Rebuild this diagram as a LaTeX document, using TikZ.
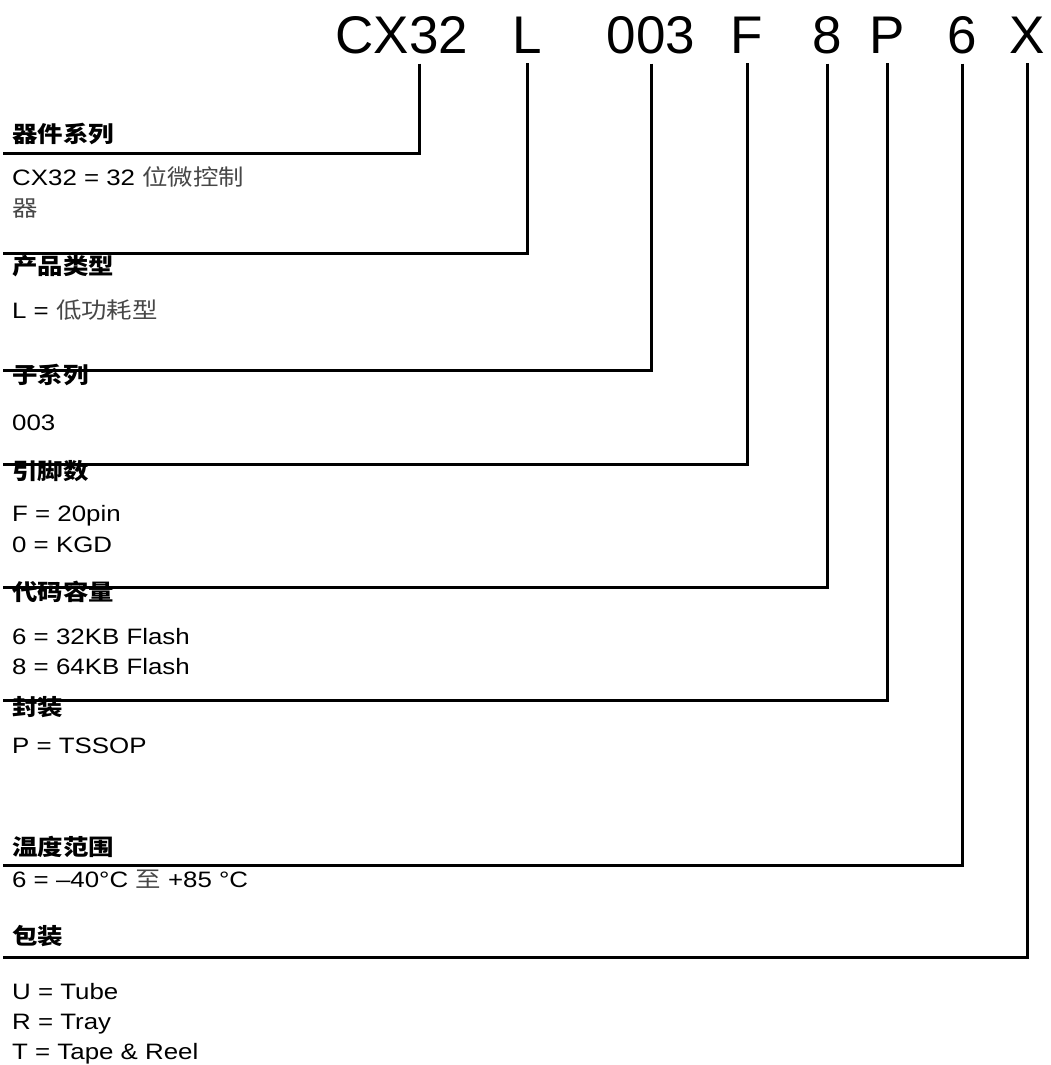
\documentclass[tikz,border=0pt]{standalone}
\usepackage{fontspec}
\setmainfont{Liberation Sans}[FakeStretch=1.16]
\newfontfamily\cjk{Noto Sans CJK SC}[FakeStretch=1.14]
\newfontfamily\bigfont{Liberation Sans}
\newcommand{\zh}[1]{{\cjk\color{black!72}#1}}
\usetikzlibrary{positioning}

\begin{document}
\begin{tikzpicture}[x=1pt, y=-1pt,
  every node/.style={inner sep=0pt, font=\fontsize{22.3}{26}\selectfont},
  code/.style={anchor=base, font=\bigfont\fontsize{53}{60}\selectfont},
  head/.style={anchor=base west, font=\fontsize{22.3}{26}\selectfont\cjk\bfseries},
  txt/.style={anchor=base west},
  lead/.style={line width=3pt}]
  \useasboundingbox (0,0) rectangle (1051,1065);
  % part number
  \node[code] (c_cx) at (402,53) {CX32};
  \node[code] (c_l)  at (527,53) {L};
  \node[code] (c_s)  at (651,53) {003};
  \node[code] (c_f)  at (747,53) {F};
  \node[code] (c_8)  at (827,53) {8};
  \node[code] (c_p)  at (887,53) {P};
  \node[code] (c_6)  at (962,53) {6};
  \node[code] (c_x)  at (1027,53) {X};
  % fields
  \node[head] (h_1) at (12,142) {器件系列};
  \node[txt]  (v_1a) at (12,185) {CX32 = 32 \zh{位微控制}};
  \node[txt]  (v_1b) at (12,216) {\zh{器}};
  \node[head] (h_2) at (12,274) {产品类型};
  \node[txt]  (v_2) at (12,318) {L = \zh{低功耗型}};
  \node[head] (h_3) at (12,383) {子系列};
  \node[txt]  (v_3) at (12,430) {003};
  \node[head] (h_4) at (12,479) {引脚数};
  \node[txt]  (v_4a) at (12,521) {F = 20pin};
  \node[txt]  (v_4b) at (12,552) {0 = KGD};
  \node[head] (h_5) at (12,600) {代码容量};
  \node[txt]  (v_5a) at (12,644) {6 = 32KB Flash};
  \node[txt]  (v_5b) at (12,674) {8 = 64KB Flash};
  \node[head] (h_6) at (12,715) {封装};
  \node[txt]  (v_6) at (12,753) {P = TSSOP};
  \node[head] (h_7) at (12,855) {温度范围};
  \node[txt]  (v_7) at (12,887) {6 = –40°C \zh{至} +85 °C};
  \node[head] (h_8) at (12,944) {包装};
  \node[txt]  (v_8a) at (12,999) {U = Tube};
  \node[txt]  (v_8b) at (12,1029) {R = Tray};
  \node[txt]  (v_8c) at (12,1059) {T = Tape \& Reel};
  % line ends
  \coordinate (e_1) at (3,153);
  \coordinate (e_2) at (3,253);
  \coordinate (e_3) at (3,370);
  \coordinate (e_4) at (3,464);
  \coordinate (e_5) at (3,587);
  \coordinate (e_6) at (3,700);
  \coordinate (e_7) at (3,865);
  \coordinate (e_8) at (3,957);
  \draw[lead] (c_cx.south) ++(17,10) |- (e_1);
  \draw[lead] (c_l.south) ++(0,10) |- (e_2);
  \draw[lead] (c_s.south) ++(0,10) |- (e_3);
  \draw[lead] (c_f.south) ++(0,10) |- (e_4);
  \draw[lead] (c_8.south) ++(0,10) |- (e_5);
  \draw[lead] (c_p.south) ++(0,10) |- (e_6);
  \draw[lead] (c_6.south) ++(0,10) |- (e_7);
  \draw[lead] (c_x.south) ++(0,10) |- (e_8);
\end{tikzpicture}
\end{document}
